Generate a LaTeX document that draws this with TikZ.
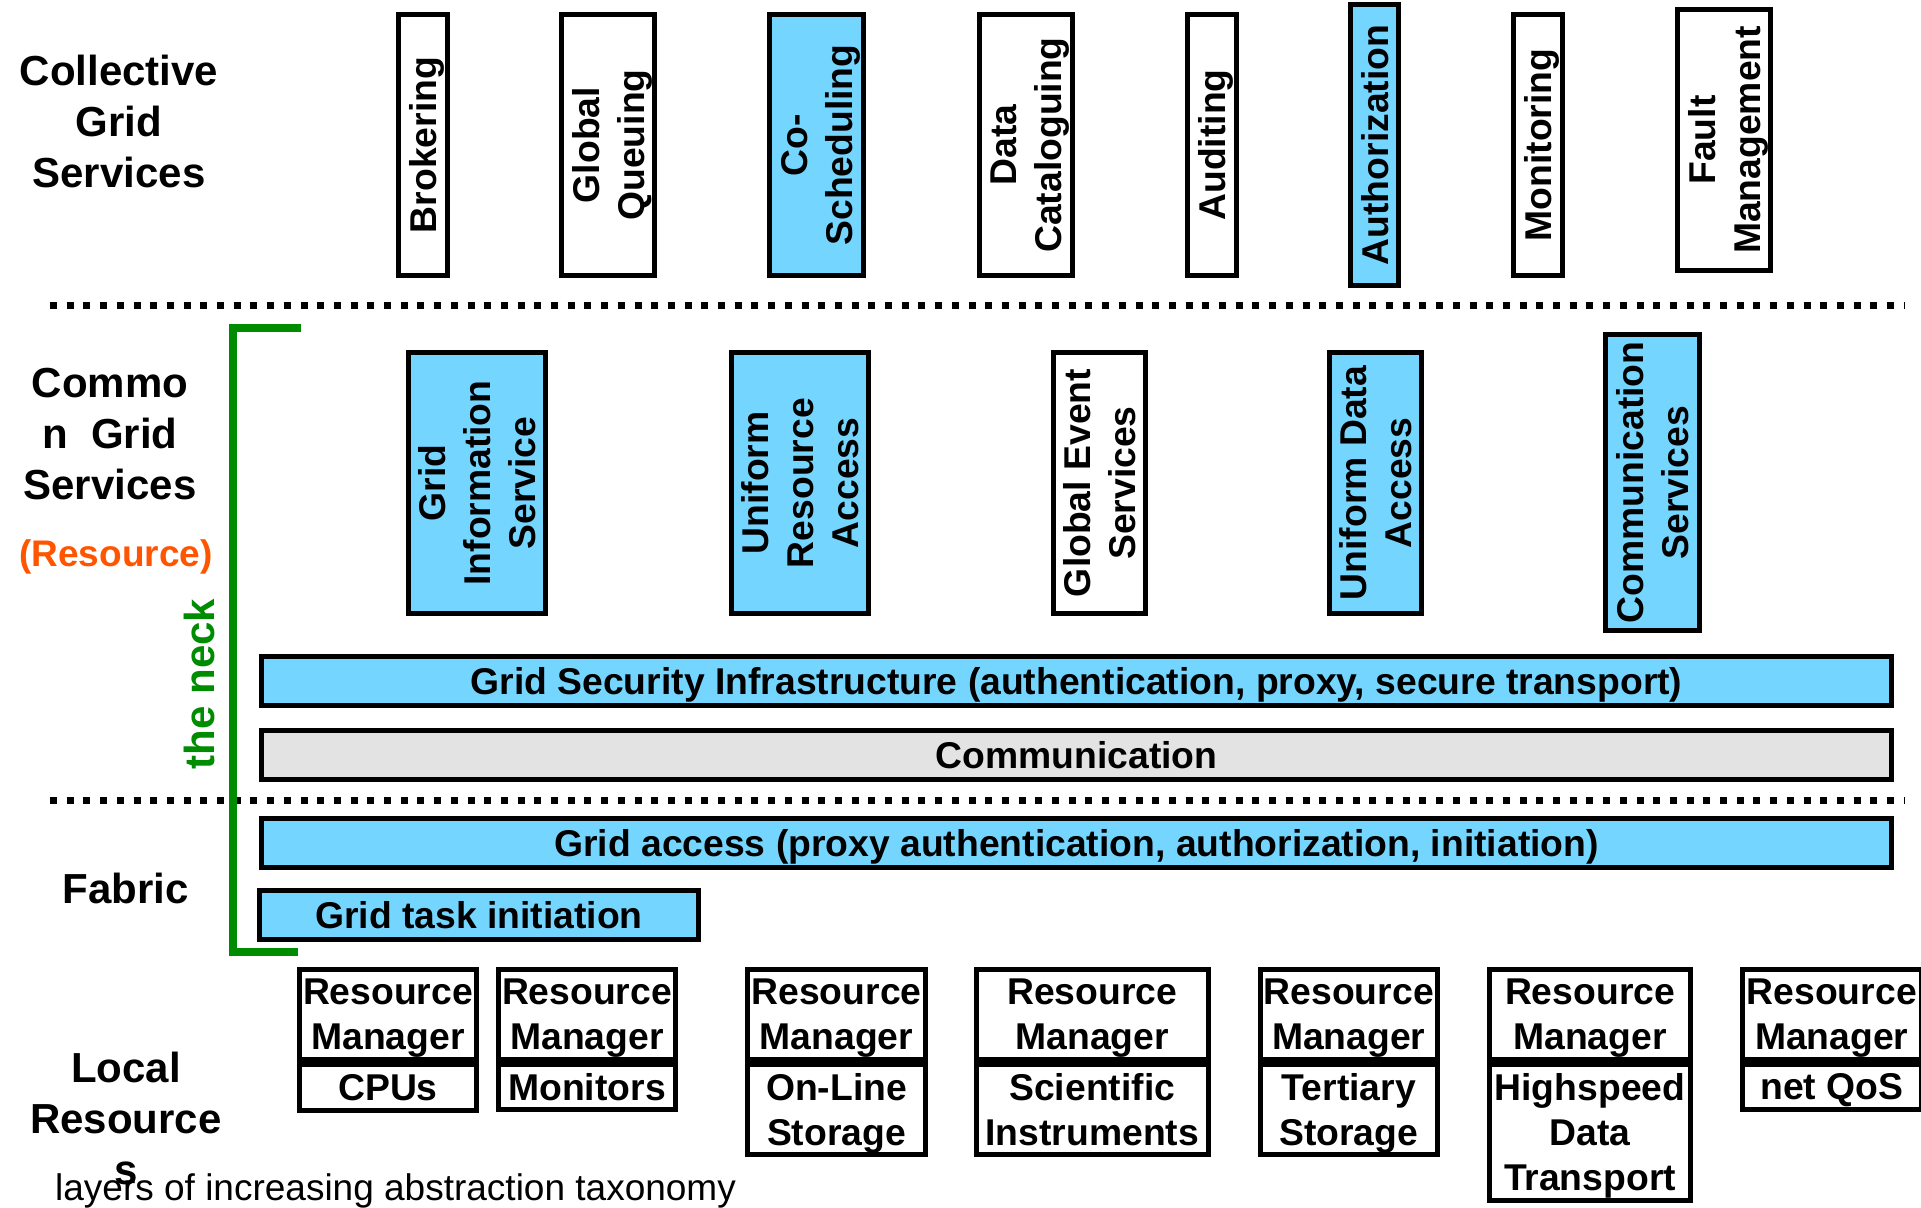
\documentclass[tikz,border=0pt]{standalone}
\usepackage{fontspec}
\setmainfont{Liberation Sans}
\definecolor{gblue}{RGB}{116,214,255}
\definecolor{ggray}{RGB}{227,227,227}
\definecolor{ggreen}{RGB}{0,140,0}
\definecolor{gorange}{RGB}{255,85,0}
\begin{document}
\begin{tikzpicture}[x=1pt,y=-1pt,
  box/.style={draw=black, line width=5pt, inner sep=0pt, align=center, text depth=0pt,
    font=\fontsize{37.3}{45}\selectfont\bfseries},
  vbox/.style={box, rotate=90},
  bluefill/.style={fill=gblue},
  grayfill/.style={fill=ggray},
  bar/.style={box, minimum width=1630pt, minimum height=49pt},
  rmtop/.style={box, minimum height=89.5pt},
  rmbot/.style={box},
  layerlabel/.style={inner sep=0pt, align=center, text depth=0pt,
    font=\fontsize{42}{51}\selectfont\bfseries},
  dotline/.style={line width=7pt, dash pattern=on 7pt off 9.7pt},
]
\useasboundingbox (0,0) rectangle (1921,1207);

% layer separators
\coordinate (d1a) at (50,305);  \coordinate (d1b) at (1905,305);
\coordinate (d2a) at (50,800);  \coordinate (d2b) at (1905,800);
\draw[dotline] (d1a) -- (d1b);
\draw[dotline] (d2a) -- (d2b);

% left labels
\node[layerlabel] (lcoll) at (119,121) {Collective\\Grid\\Services};
\node[layerlabel] (lcomm) at (110,434) {Commo\\n\ \ Grid\\Services};
\node[inner sep=0pt, text depth=0pt, font=\fontsize{37}{45}\selectfont\bfseries, text=gorange] (lres) at (116,553) {(Resource)};
\node[layerlabel] (lfab) at (126,888) {Fabric};
\node[layerlabel] (lloc) at (126,1118) {Local\\Resource\\s};
\node[inner sep=0pt, text=ggreen, rotate=90, text depth=0pt, font=\fontsize{42}{51}\selectfont\bfseries] (neck) at (199,684) {the neck};

% collective grid services
\node[vbox, minimum width=261pt, minimum height=49pt] (brok) at (423,145) {Brokering};
\node[vbox, minimum width=261pt, minimum height=93pt] (gq) at (608,145) {Global\\Queuing};
\node[vbox, bluefill, minimum width=261pt, minimum height=94pt] (cos) at (816.5,145) {Co-\\Scheduling};
\node[vbox, minimum width=261pt, minimum height=92.5pt] (dc) at (1025.75,145) {Data\\Cataloguing};
\node[vbox, minimum width=261pt, minimum height=49pt] (aud) at (1212,145) {Auditing};
\node[vbox, bluefill, minimum width=281pt, minimum height=48pt] (authz) at (1374.5,145) {Authorization};
\node[vbox, minimum width=261pt, minimum height=49pt] (mon) at (1538,145) {Monitoring};
\node[vbox, minimum width=261pt, minimum height=93pt] (fault) at (1724,140) {Fault\\Management};

% common grid services
\node[vbox, bluefill, minimum width=261pt, minimum height=137pt] (gis) at (477,483) {Grid\\Information\\Service};
\node[vbox, bluefill, minimum width=261pt, minimum height=137pt] (ura) at (800,483) {Uniform\\Resource\\Access};
\node[vbox, minimum width=261pt, minimum height=92pt] (ges) at (1099.5,483) {Global Event\\Services};
\node[vbox, bluefill, minimum width=261pt, minimum height=92pt] (uda) at (1375.5,483) {Uniform Data\\Access};
\node[vbox, bluefill, minimum width=296pt, minimum height=94pt] (cs) at (1652.5,482.5) {Communication\\Services};

\node[bar, bluefill] (gsi) at (1076.5,681) {Grid Security Infrastructure (authentication, proxy, secure transport)};
\node[bar, grayfill] (comm) at (1076.5,755) {Communication};

% fabric
\node[bar, bluefill] (gacc) at (1076.5,842.5) {Grid access (proxy authentication, authorization, initiation)};
\node[box, bluefill, minimum width=439pt, minimum height=49pt] (gti) at (479,915) {Grid task initiation};

% the neck bracket
\coordinate (nk1) at (301,327.5);
\coordinate (nk2) at (232.5,327.5);
\coordinate (nk3) at (232.5,952);
\coordinate (nk4) at (298,952);
\draw[ggreen, line width=8pt] (nk1) -- (nk2) -- (nk3) -- (nk4);

% local resources
\node[rmtop, minimum width=177pt] (rm1) at (388,1014.25) {Resource\\Manager};
\node[rmbot, minimum width=177pt, minimum height=46.5pt] (r1) at (388,1087.25) {CPUs};
\node[rmtop, minimum width=177pt] (rm2) at (587,1014.25) {Resource\\Manager};
\node[rmbot, minimum width=177pt, minimum height=45.5pt] (r2) at (587,1086.75) {Monitors};
\node[rmtop, minimum width=178pt] (rm3) at (836.5,1014.25) {Resource\\Manager};
\node[rmbot, minimum width=178pt, minimum height=90.5pt] (r3) at (836.5,1109.25) {On-Line\\Storage};
\node[rmtop, minimum width=232.5pt] (rm4) at (1092.25,1014.25) {Resource\\Manager};
\node[rmbot, minimum width=232.5pt, minimum height=90.5pt] (r4) at (1092.25,1109.25) {Scientific\\Instruments};
\node[rmtop, minimum width=176.5pt] (rm5) at (1348.75,1014.25) {Resource\\Manager};
\node[rmbot, minimum width=176.5pt, minimum height=90.5pt] (r5) at (1348.75,1109.25) {Tertiary\\Storage};
\node[rmtop, minimum width=201pt] (rm6) at (1590,1014.25) {Resource\\Manager};
\node[rmbot, minimum width=201pt, minimum height=136.5pt] (r6) at (1590,1132.25) {Highspeed\\Data\\Transport};
\node[rmtop, minimum width=179.5pt] (rm7) at (1831.75,1014.25) {Resource\\Manager};
\node[rmbot, minimum width=179.5pt, minimum height=45.5pt] (r7) at (1831.75,1086.75) {net QoS};

% caption
\node[inner sep=0pt, anchor=base west, font=\fontsize{37}{44}\selectfont] (cap) at (55,1200) {layers of increasing abstraction taxonomy};
\end{tikzpicture}
\end{document}
